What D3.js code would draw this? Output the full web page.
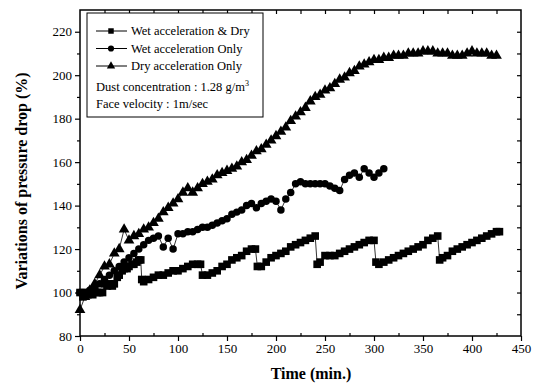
<!DOCTYPE html>
<html>
<head>
<meta charset="utf-8">
<script src="https://cdn.jsdelivr.net/npm/d3@7/dist/d3.min.js"></script>
<style>
  body { margin: 0; background: #fff; }
  svg { font-family: "Liberation Serif", "DejaVu Serif", serif; }
</style>
</head>
<body>
<div id="chart"></div>
<script>
// Wet acceleration & Dry (squares)
let wetDryTime = [0, 3, 5, 8, 10, 13, 15, 18, 20, 23, 25, 28, 30, 33, 35, 38, 40, 43, 45, 48, 50, 53, 55, 58, 60, 62,
  63, 65, 70, 75, 80, 85, 90, 95, 100, 105, 110, 115, 120, 123,
  125, 130, 135, 140, 145, 150, 155, 160, 165, 170, 175, 179,
  181, 185, 190, 195, 200, 205, 210, 215, 220, 225, 230, 235, 240,
  242, 245, 250, 255, 260, 265, 270, 275, 280, 285, 290, 295, 300,
  302, 305, 310, 315, 320, 325, 330, 335, 340, 345, 350, 355, 360, 365,
  367, 370, 375, 380, 385, 390, 395, 400, 405, 410, 415, 420, 425, 428];
let wetDry = [100, 98, 100, 99, 100, 99, 101, 100, 100, 100, 104, 103, 104, 103, 104, 107, 108, 110, 111, 111, 112, 113, 113, 114, 115, 115,
  106, 105, 106, 107, 108, 108, 109, 110, 110, 111, 112, 113, 113, 113,
  108, 108, 109, 110, 112, 113, 115, 116, 117, 119, 120, 120,
  112, 112, 114, 116, 117, 118, 119, 121, 122, 123, 124, 125, 126,
  113, 114, 117, 117, 117, 118, 119, 120, 121, 122, 123, 124, 124,
  114, 113, 114, 115, 116, 117, 118, 119, 120, 121, 122, 124, 125, 126,
  115, 116, 117, 119, 120, 121, 122, 123, 124, 125, 126, 127, 128, 128];

// Wet acceleration Only (circles)
let wetTime = [0, 5, 10, 15, 20, 25, 30, 35, 40, 45, 50, 55, 60, 65, 70, 75, 80, 85, 90, 95,
  100, 105, 110, 115, 120, 125, 130, 135, 140, 145, 150, 155, 160, 165, 170, 175, 180, 185, 190, 195,
  200, 205, 210, 215, 220, 225, 230, 235, 240, 245, 250, 255, 260, 265, 270, 275, 280, 285, 290, 295,
  300, 305, 310];
let wetOnly = [100, 100, 101, 102, 104, 106, 108, 110, 112, 114, 116, 118, 120, 122, 124, 125, 126, 121, 125, 120,
  127, 127, 128, 128, 129, 130, 130, 131, 132, 133, 134, 136, 137, 138, 140, 141, 139, 141, 142, 143,
  142, 138, 143, 146, 150, 151, 150, 150, 150, 150, 150, 149, 148, 147, 152, 154, 155, 153, 157, 155,
  153, 155, 157];

// Dry acceleration Only (triangles)
let dryTime = [0, 5, 10, 15, 20, 25, 30, 35, 40, 45, 50, 55, 60, 65, 70, 75, 80, 85, 90, 95,
  100, 105, 110, 115, 120, 125, 130, 135, 140, 145, 150, 155, 160, 165, 170, 175, 180, 185, 190, 195,
  200, 205, 210, 215, 220, 225, 230, 235, 240, 245, 250, 255, 260, 265, 270, 275, 280, 285, 290, 295,
  300, 305, 310, 315, 320, 325, 330, 335, 340, 345, 350, 355, 360, 365, 370, 375, 380, 385, 390, 395,
  400, 405, 410, 415, 420, 425];
let dryOnly = [92, 98, 101, 104, 108, 112, 113, 118, 120, 129, 124, 126, 127, 129, 130, 132, 134, 137, 139, 141,
  143, 146, 148, 146, 148, 150, 151, 152, 154, 155, 156, 157, 158, 160, 161, 163, 165, 166, 168, 170,
  172, 174, 176, 179, 181, 183, 185, 188, 190, 191, 193, 194, 196, 198, 199, 201, 202, 204, 205, 206,
  207, 207, 208, 208, 209, 209, 209, 210, 210, 210, 211, 211, 211, 210, 210, 210, 209, 209, 209, 210,
  211, 210, 210, 210, 209, 209];

let xTicks = [0, 50, 100, 150, 200, 250, 300, 350, 400, 450];
let yTicks = [80, 100, 120, 140, 160, 180, 200, 220];
let legendNames = ["Wet acceleration & Dry", "Wet acceleration Only", "Dry acceleration Only"];
let noteLines = ["Dust concentration : 1.28 g/m", "Face velocity : 1m/sec"];

let w = 535,
  h = 383;
let mLeft = 80, mRight = 521, mTop = 10, mBottom = 336;
let serif = "'Liberation Serif', 'DejaVu Serif', serif";

let svg = d3.select("#chart")
  .append("svg")
  .attr("width", w)
  .attr("height", h);

let x = d3.scaleLinear().domain([0, 450]).range([mLeft, mRight]);
let y = d3.scaleLinear().domain([80, 230]).range([mBottom, mTop]);

// minor ticks
svg.append("g")
  .attr("transform", "translate(0," + mBottom + ")")
  .call(d3.axisBottom(x).tickValues(d3.range(25, 450, 50)).tickSize(-3).tickFormat(""));
svg.append("g")
  .attr("transform", "translate(" + mLeft + ",0)")
  .call(d3.axisLeft(y).tickValues(d3.range(90, 230, 20)).tickSize(3).tickFormat(""));
svg.append("g")
  .attr("transform", "translate(0," + mTop + ")")
  .call(d3.axisTop(x).tickValues(d3.range(25, 450, 25)).tickSize(-4).tickFormat(""));
svg.append("g")
  .attr("transform", "translate(" + mRight + ",0)")
  .call(d3.axisRight(y).tickValues(d3.range(90, 230, 10)).tickSize(-4).tickFormat(""));

svg.append("g")
  .attr("transform", "translate(0," + mBottom + ")")
  .call(d3.axisBottom(x).tickValues(xTicks).tickSize(5).tickPadding(3))
  .attr("font-family", serif)
  .attr("font-size", 13);
svg.append("g")
  .attr("transform", "translate(" + mLeft + ",0)")
  .call(d3.axisLeft(y).tickValues(yTicks).tickSize(5).tickPadding(3))
  .attr("font-family", serif)
  .attr("font-size", 13);

svg.selectAll(".domain").remove();
svg.selectAll(".tick line").attr("stroke", "#000").attr("stroke-width", 1.2);
svg.selectAll(".tick text").attr("fill", "#000");

// frame
svg.append("rect")
  .attr("x", mLeft)
  .attr("y", mTop)
  .attr("width", mRight - mLeft)
  .attr("height", mBottom - mTop)
  .attr("fill", "none")
  .attr("stroke", "#000")
  .attr("stroke-width", 1.5);

let line = d3.line()
  .x(function (d) { return x(d[0]); })
  .y(function (d) { return y(d[1]); });

function pairs(ts, vs) {
  return ts.map(function (t, i) { return [t, vs[i]]; });
}

let series = [
  { pts: pairs(wetDryTime, wetDry), shape: d3.symbolSquare, size: 58 },
  { pts: pairs(wetTime, wetOnly), shape: d3.symbolCircle, size: 44 },
  { pts: pairs(dryTime, dryOnly), shape: d3.symbolTriangle, size: 50 }
];

series.forEach(function (s) {
  svg.append("path")
    .datum(s.pts)
    .attr("d", line)
    .attr("fill", "none")
    .attr("stroke", "#000")
    .attr("stroke-width", 0.8);
  svg.append("g")
    .selectAll("path")
    .data(s.pts)
    .enter()
    .append("path")
    .attr("transform", function (d) { return "translate(" + x(d[0]) + "," + y(d[1]) + ")"; })
    .attr("d", d3.symbol().type(s.shape).size(s.size))
    .attr("fill", "#000");
});

// legend
let lg = svg.append("g");
lg.append("rect")
  .attr("x", 87)
  .attr("y", 13)
  .attr("width", 176)
  .attr("height", 104)
  .attr("fill", "#fff")
  .attr("stroke", "#000")
  .attr("stroke-width", 1);

legendNames.forEach(function (name, i) {
  let ly = 31 + i * 17.5;
  lg.append("line")
    .attr("x1", 96).attr("x2", 127)
    .attr("y1", ly).attr("y2", ly)
    .attr("stroke", "#000")
    .attr("stroke-width", 1);
  lg.append("path")
    .attr("transform", "translate(111," + ly + ")")
    .attr("d", d3.symbol().type(series[i].shape).size(30))
    .attr("fill", "#000");
  lg.append("text")
    .attr("x", 131)
    .attr("y", ly + 4)
    .style("font-size", "12.5px")
    .text(name);
});

let note = lg.append("text")
  .attr("x", 96)
  .attr("y", 91)
  .style("font-size", "12.5px")
  .text(noteLines[0]);
note.append("tspan")
  .attr("dy", -5)
  .style("font-size", "8px")
  .text("3");
lg.append("text")
  .attr("x", 96)
  .attr("y", 108)
  .style("font-size", "12.5px")
  .text(noteLines[1]);

// axis titles
svg.append("text")
  .attr("x", 311)
  .attr("y", 379)
  .attr("text-anchor", "middle")
  .style("font-size", "16px")
  .style("font-weight", "bold")
  .text("Time (min.)");

svg.append("text")
  .attr("transform", "translate(27,181) rotate(-90)")
  .attr("text-anchor", "middle")
  .style("font-size", "16px")
  .style("font-weight", "bold")
  .text("Variations of pressure drop (%)");
</script>
</body>
</html>
